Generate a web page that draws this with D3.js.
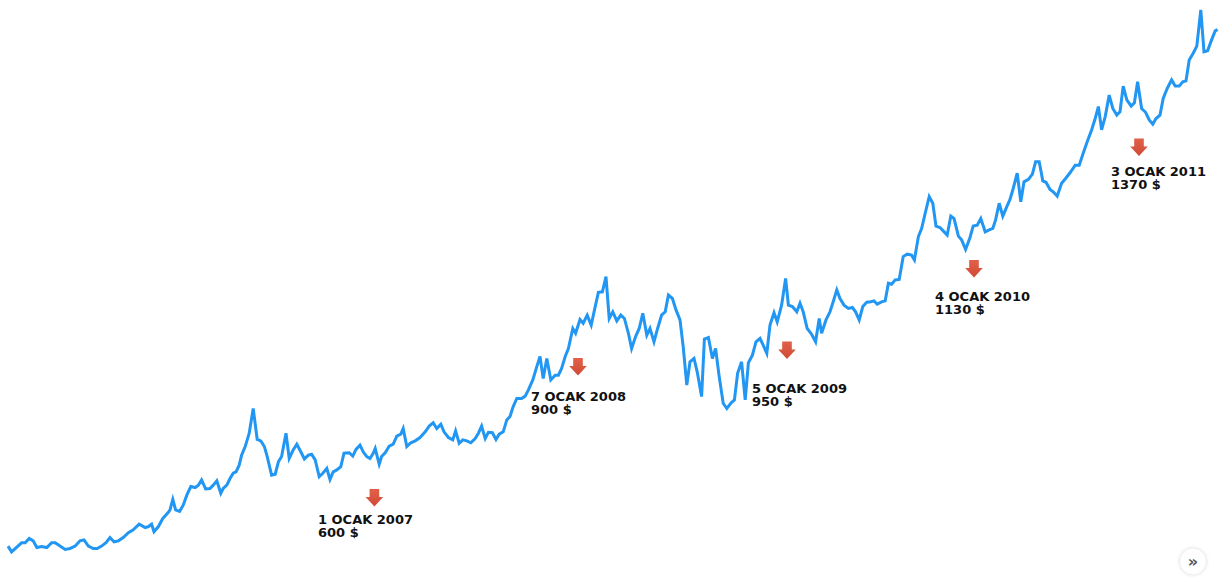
<!DOCTYPE html>
<html><head><meta charset="utf-8">
<script src="https://cdn.jsdelivr.net/npm/d3@7"></script>
<style>html,body{margin:0;padding:0;background:#fff;overflow:hidden}</style>
</head><body>
<svg id="chart" width="1219" height="579"></svg>
<script>
// time index (≈ weeks from the first observation) and gold price ($/oz)
const timeIdx = [
0,0.9,2.2,3.4,4.3,5.3,6.3,7.2,8.4,9.7,10.9,11.8,13,14.3,15.5,16.8,18,19,20.1,21.3,22.3,23.4,24.5,25.5,26.5,27.6,28.8,30.1,31.3,32.8,34.3,35.1,35.9,36.5,37.6,38.7,40.1,40.5,41.2,41.9,42.9,
43.8,44.7,45.7,46.8,47.6,48.4,49.4,50.5,51.3,52.2,53.2,53.8,54.7,55.5,56.3,57,57.8,58.4,59.3,60.3,61.3,62.3,63.2,64.1,64.8,65.9,66.8,67.6,68.4,69.5,70.3,71.3,72.2,73.2,74.1,75.1,75.9,76.8,77.8,78.7,79.7,80.5,81.3,82.2,83.2,84,85.3,
86.2,87,88,88.8,89.7,90.5,91.3,91.8,92.8,93.4,94.3,95.3,96.3,97.2,98.2,98.8,99.7,100.7,101.8,103,104.3,105.3,106.3,107.2,108.2,109,110.1,111.2,111.9,112.8,113.7,114.7,115.7,116.8,117.6,118.4,119.3,120.1,121.1,122,122.8,123.8,124.7,125.5,126.3,127.2,128.4,129.3,130.1,131.2,132.2,133,133.8,134.7,135.7,136.8,137.6,138.4,139.3,140.1,141.2,141.9,143,143.8,144.8,145.8,146.8,147.6,148.6,149.5,
150.3,151.2,152.2,153.2,154.1,155.1,155.9,156.9,157.8,158.7,159.7,160.5,161.5,162.4,163.4,164.3,165.1,166.1,167,168,168.8,169.7,170.5,171.5,172.3,173.4,174.1,175.1,176.1,176.9,177.8,178.8,179.7,180.7,181.6,182.4,183.4,184.3,185.1,186.1,187,188,188.8,189.7,190.5,191.5,192.3,193.4,194.4,195.1,196.1,197.2,198,198.8,199.8,200.9,201.9,202.8,203.4,204.5,205.5,206.3,207.2,208,209,210.1,211.1,211.9,212.8,213.7,214.7,215.7,
216.5,217.3,218.4,219.3,220.1,220.9,221.8,222.8,223.8,224.8,225.9,226.6,227.6,228.4,229.3,230.3,231.2,232,233,233.8,234.8,235.7,236.5,237.6,238.4,239.4,240.5,241.3,242.3,243.2,244.3,245.3,246.2,246.9,247.8,248.7,249.7,250.5,251.3,252.3,253.2,254,255.1,256.1,256.9,257.8,258.7,259.5,260.5,261.3,262.3,263.4,264.4,265.5,266.8,267.8,268.8,269.8,270.9,271.8,272.6,273.4,274.3,275.3,276.2,277.2,278,278.8,279.7,280.8,281.6,282.4,283.4,284.4,285.3,286.2,287,288,288.8,289.8,290.9,291.8,292.8,293.7,294.5,295.3,296.3,297.2,298.2,299,299.9,300.9,301.8,302.4
];
const goldPrice = [
429,417,427,436,436,445,440,426,428,426,436,436,429,422,424,429,440,442,429,424,424,429,436,447,438,440,447,457,463,475,468,470,475,459,470,487,500,505,527,505,502,
515,536,554,552,557,568,549,550,557,566,540,550,557,571,582,585,599,620,638,666,718,653,650,638,617,578,580,606,617,666,613,631,643,627,612,620,622,610,575,582,592,569,585,589,596,624,625,
618,632,641,627,617,613,624,634,601,617,625,639,643,660,664,676,638,646,650,657,669,681,688,676,685,669,657,652,671,645,652,650,646,655,666,681,655,668,667,653,664,669,694,701,722,739,739,744,757,778,806,827,781,823,778,788,788,802,827,844,886,876,905,897,914,893,932,962,963,995,
907,921,902,914,907,876,844,869,886,918,872,886,858,886,914,921,956,949,925,904,848,767,816,823,795,743,864,867,823,844,785,729,718,729,736,792,816,736,814,830,858,865,851,834,893,919,900,935,991,935,932,921,939,921,886,874,858,907,876,904,921,942,967,949,935,928,930,921,904,932,941,942,
944,937,942,944,981,979,988,989,1037,1042,1040,1030,1079,1096,1128,1163,1149,1101,1098,1091,1082,1122,1117,1080,1072,1052,1077,1101,1103,1117,1089,1093,1096,1114,1149,1122,1142,1157,1180,1212,1152,1194,1199,1210,1236,1236,1196,1193,1178,1173,1164,1191,1201,1213,1229,1229,1254,1278,1303,1327,1352,1303,1331,1376,1348,1334,1341,1395,1366,1353,1360,1404,1348,1340,1324,1315,1327,1334,1369,1390,1408,1395,1395,1404,1406,1450,1464,1479,1555,1467,1469,1492,1511,1514
];

// annotations
const annDates  = ["1 OCAK 2007", "7 OCAK 2008", "5 OCAK 2009", "4 OCAK 2010", "3 OCAK 2011"];
const annPrices = [600, 900, 950, 1130, 1370];
const annTime   = [91.6, 142.5, 194.75, 241.5, 282.75];

// layout (pixel placement of the annotation overlays)
const arrowTop  = [489, 358, 341.5, 260, 138.5];
const labelPos  = [[318, 523.5], [531, 401], [752, 392.5], [935, 301], [1111, 176]];

const svg = d3.select("#chart");
const x = d3.scaleLinear().domain(d3.extent(timeIdx)).range([8, 1217.6]);
const y = d3.scaleLinear().domain([425, 1550]).range([548, 548 - 1125 / 2.1]);

const defs = svg.append("defs");
const g = defs.append("linearGradient").attr("id", "arrowGrad").attr("x1", 0).attr("y1", 0).attr("x2", 0).attr("y2", 1);
g.append("stop").attr("offset", "0%").attr("stop-color", "#e2604a");
g.append("stop").attr("offset", "100%").attr("stop-color", "#cf4a34");
const sh = defs.append("filter").attr("id", "btnShadow").attr("x", "-50%").attr("y", "-50%").attr("width", "200%").attr("height", "200%");
sh.append("feDropShadow").attr("dx", 0).attr("dy", 0).attr("stdDeviation", 1.5).attr("flood-color", "#000").attr("flood-opacity", 0.12);

const line = d3.line()
  .x((d, i) => x(timeIdx[i]))
  .y(d => y(d));

svg.append("path")
  .datum(goldPrice)
  .attr("d", line)
  .attr("fill", "none")
  .attr("stroke", "#2196f3")
  .attr("stroke-width", 3)
  .attr("stroke-linejoin", "miter")
  .attr("stroke-miterlimit", 4);

// arrows
const ann = svg.append("g");
annTime.forEach((t, i) => {
  const cx = x(t), top = arrowTop[i];
  const p = d3.path();
  p.moveTo(cx - 4.8, top);
  p.lineTo(cx + 4.8, top);
  p.lineTo(cx + 4.8, top + 8);
  p.lineTo(cx + 8.8, top + 8);
  p.lineTo(cx, top + 17.5);
  p.lineTo(cx - 8.8, top + 8);
  p.lineTo(cx - 4.8, top + 8);
  p.closePath();
  ann.append("path").attr("d", p.toString()).attr("fill", "url(#arrowGrad)");

  const tx = ann.append("text")
    .attr("x", labelPos[i][0]).attr("y", labelPos[i][1])
    .attr("font-family", "DejaVu Sans, Verdana, sans-serif")
    .attr("font-weight", "bold").attr("font-size", 13)
    .attr("fill", "#111");
  tx.append("tspan").attr("x", labelPos[i][0]).text(annDates[i]);
  tx.append("tspan").attr("x", labelPos[i][0]).attr("dy", 13.2).text(annPrices[i] + " $");
});

// navigation button
const btn = svg.append("g").attr("transform", "translate(1193,561.5)");
btn.append("circle").attr("r", 13.5).attr("fill", "#fff").attr("stroke", "#ececec").attr("filter", "url(#btnShadow)");
btn.append("text").attr("text-anchor", "middle").attr("y", 5.5)
  .attr("font-family", "DejaVu Sans, sans-serif").attr("font-weight", "bold").attr("font-size", 16)
  .attr("fill", "#555").text("»");
</script>
</body></html>
